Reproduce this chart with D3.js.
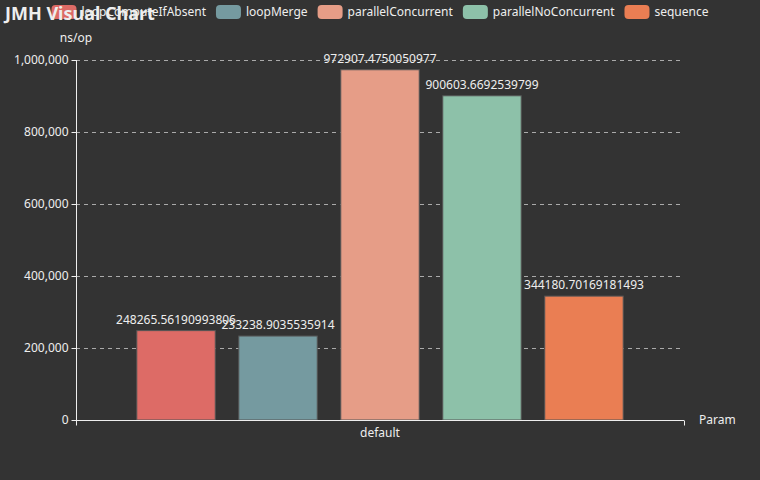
<!DOCTYPE html>
<html>
<head>
<meta charset="utf-8">
<script src="https://cdn.jsdelivr.net/npm/d3@7/dist/d3.min.js"></script>
<style>
  html, body { margin: 0; padding: 0; background: #333333; }
  svg { display: block; }
  text { font-family: "Noto Sans", "DejaVu Sans", sans-serif; }
</style>
</head>
<body>
<svg id="chart" width="760" height="480"></svg>
<script>
const titleText = "JMH Visual Chart";
const categories = ["default"];
const seriesNames = ["loopComputeIfAbsent", "loopMerge", "parallelConcurrent", "parallelNoConcurrent", "sequence"];
const seriesValues = [248265.56190993806, 233238.9035535914, 972907.4750050977, 900603.6692539799, 344180.70169181493];
const seriesLabels = ["248265.56190993806", "233238.9035535914", "972907.4750050977", "900603.6692539799", "344180.70169181493"];
const seriesColors = ["#dd6b66", "#759aa0", "#e69d87", "#8dc1a9", "#ea7e53"];
const yTicks = [0, 200000, 400000, 600000, 800000, 1000000];
const yAxisName = "ns/op";
const xAxisName = "Param";

const W = 760, H = 480;
const grid = { left: 76, right: 684, top: 60, bottom: 420 };
const svg = d3.select("#chart");
svg.append("rect").attr("width", W).attr("height", H).attr("fill", "#333333");

const x = d3.scaleBand().domain(categories).range([grid.left, grid.right]).padding(0);
const y = d3.scaleLinear().domain([0, 1000000]).range([grid.bottom, grid.top]);

// grid lines
svg.append("g").selectAll("line").data(yTicks.filter(t => t > 0)).join("line")
  .attr("x1", grid.left).attr("x2", grid.right)
  .attr("y1", d => Math.round(y(d)) + 0.5).attr("y2", d => Math.round(y(d)) + 0.5)
  .attr("stroke", "#aaaaaa").attr("stroke-width", 1).attr("stroke-dasharray", "4,4");

// bars
const cat = categories[0];
const bw = x.bandwidth();
const inner = d3.scaleBand().domain(seriesNames)
  .range([x(cat) + bw * 0.1, x(cat) + bw * 0.9])
  .paddingInner(0.3 / 1.3).paddingOuter(0);

const barData = seriesNames.map((n, i) => ({ name: n, value: seriesValues[i], label: seriesLabels[i], color: seriesColors[i] }));
const bars = svg.append("g");
bars.selectAll("rect").data(barData).join("rect")
  .attr("x", d => inner(d.name))
  .attr("y", d => y(d.value))
  .attr("width", inner.bandwidth())
  .attr("height", d => y(0) - y(d.value))
  .attr("fill", d => d.color)
  .attr("stroke", "#555555").attr("stroke-width", 1);

// y axis
const yAxis = d3.axisLeft(y).tickValues(yTicks).tickFormat(d3.format(",")).tickSize(5).tickPadding(3);
const gy = svg.append("g").attr("transform", `translate(${grid.left + 0.5},0)`).call(yAxis);
gy.select(".domain").attr("stroke", "#eeeeee").attr("d", `M0,${grid.top}V${grid.bottom}`);
gy.selectAll(".tick line").attr("stroke", "#eeeeee");
gy.selectAll(".tick text").attr("fill", "#eeeeee").style("font-size", "12px")
  .style("font-family", '"Noto Sans", "DejaVu Sans", sans-serif');

// x axis
const gx = svg.append("g").attr("transform", `translate(0,${grid.bottom + 0.5})`);
gx.append("line").attr("x1", grid.left).attr("x2", grid.right).attr("y1", 0).attr("y2", 0).attr("stroke", "#eeeeee");
[grid.left, grid.right].forEach(px => {
  gx.append("line").attr("x1", px + 0.5).attr("x2", px + 0.5).attr("y1", 0).attr("y2", 5).attr("stroke", "#eeeeee");
});
gx.selectAll("text.cat").data(categories).join("text").attr("class", "cat")
  .attr("x", d => x(d) + bw / 2).attr("y", 16)
  .attr("text-anchor", "middle").attr("fill", "#eeeeee").style("font-size", "12px").text(d => d);

// axis names
svg.append("text").attr("x", grid.left).attr("y", 42).attr("text-anchor", "middle")
  .attr("fill", "#eeeeee").style("font-size", "12px").text(yAxisName);
svg.append("text").attr("x", grid.right + 15).attr("y", grid.bottom + 4).attr("text-anchor", "start")
  .attr("fill", "#eeeeee").style("font-size", "12px").text(xAxisName);

// bar labels
bars.selectAll("text").data(barData).join("text")
  .attr("x", d => inner(d.name) + inner.bandwidth() / 2)
  .attr("y", d => y(d.value) - 7)
  .attr("text-anchor", "middle").attr("fill", "#eeeeee").style("font-size", "12px")
  .text(d => d.label);

// legend
const legend = svg.append("g");
const items = legend.selectAll("g").data(barData).join("g");
items.append("rect").attr("width", 25).attr("height", 14).attr("rx", 4).attr("y", 5).attr("fill", d => d.color);
items.append("text").attr("x", 30).attr("y", 12).attr("dy", "0.35em")
  .attr("fill", "#eeeeee").style("font-size", "12px").text(d => d.name);
let widths = [];
items.each(function () { widths.push(30 + d3.select(this).select("text").node().getComputedTextLength()); });
const gap = 10;
const total = d3.sum(widths) + gap * (widths.length - 1);
let cx = (W - total) / 2;
items.each(function (d, i) { d3.select(this).attr("transform", `translate(${cx},0)`); cx += widths[i] + gap; });

// title
svg.append("text").attr("x", 5).attr("y", 20).attr("fill", "#eeeeee")
  .style("font-size", "18px").style("font-weight", "bold").text(titleText);
</script>
</body>
</html>
